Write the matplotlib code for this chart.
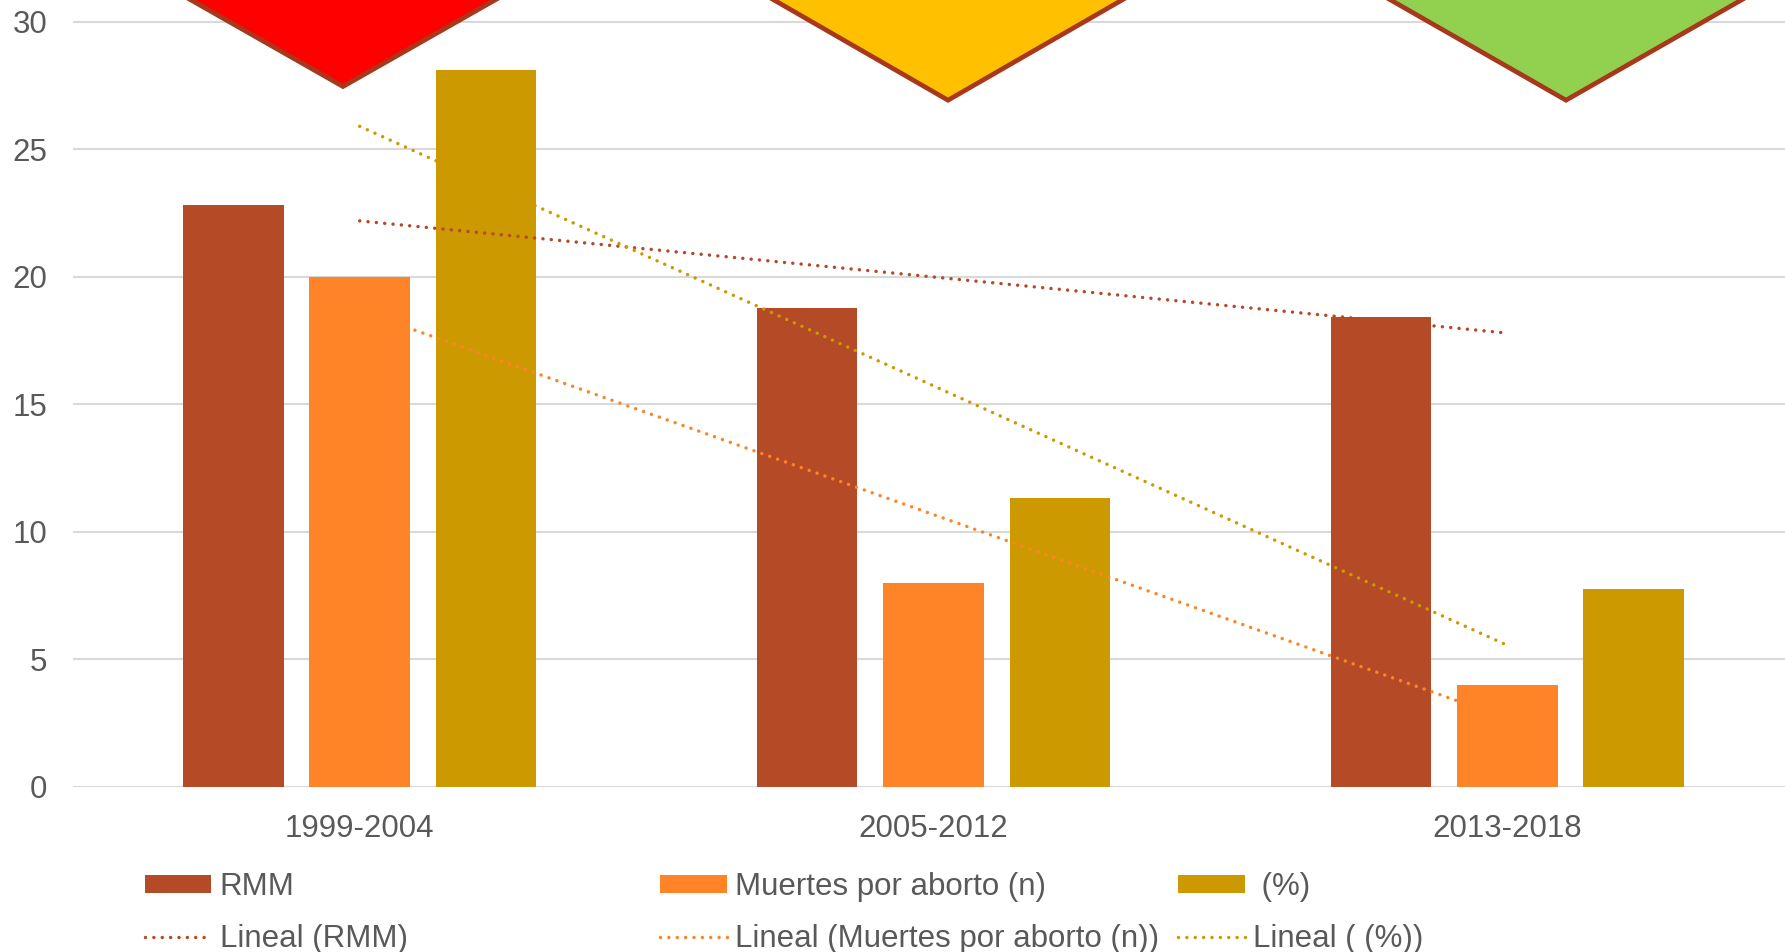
import numpy as np
import matplotlib
matplotlib.use("Agg")
import matplotlib.pyplot as plt
from matplotlib.patches import Polygon, Patch
from matplotlib.lines import Line2D

# Data
periods = ["1999-2004", "2005-2012", "2013-2018"]
rmm = [22.8, 18.75, 18.4]
muertes_aborto = [20, 8, 4]
porcentaje = [28.1, 11.3, 7.75]
y_ticks = [0, 5, 10, 15, 20, 25, 30]

series_labels = ["RMM", "Muertes por aborto (n)", " (%)"]
series_colors = ["#B54A27", "#FF8427", "#CC9900"]

W, H, DPI = 1785, 952, 100
plt.rcParams["font.family"] = ["Liberation Sans", "DejaVu Sans"]
text_gray = "#595959"
font_size = 22.5
trend_lw = 2.5
trend_style = (0, (0.01, 2.4))

fig = plt.figure(figsize=(W / DPI, H / DPI), dpi=DPI)
ax = fig.add_axes([72.8 / W, 165.4 / H, 1721.4 / W, 767.6 / H])

x = np.arange(len(periods))
offsets = [-0.22, 0.0, 0.22]
bar_w = 0.175
series = [rmm, muertes_aborto, porcentaje]
for vals, off, col in zip(series, offsets, series_colors):
    ax.bar(x + off, vals, width=bar_w, color=col, zorder=2)

# Linear trend lines over the category index
for vals, col in zip(series, series_colors):
    m, b = np.polyfit(x, vals, 1)
    xs = np.array([x[0], x[-1]])
    ax.plot(xs, m * xs + b, color=col, lw=trend_lw, linestyle=trend_style,
            dash_capstyle="round", zorder=3)

ax.set_xlim(-0.5, 2.5)
ax.set_ylim(0, 30.1)
ax.set_yticks(y_ticks)
ax.set_xticks(x)
ax.set_xticklabels(periods)
ax.grid(axis="y", color="#D9D9D9", lw=1.5, zorder=0)
ax.set_axisbelow(True)
for s in ax.spines.values():
    s.set_visible(False)
ax.tick_params(axis="both", length=0, labelsize=font_size, labelcolor=text_gray)
ax.tick_params(axis="y", pad=18.5)
ax.tick_params(axis="x", pad=19.5)

# Traffic-light markers above each period
tri_specs = [
    (343, 86.5, 1.757, "#FF0000"),
    (948, 100.2, 1.737, "#FFC000"),
    (1566, 100.2, 1.75, "#92D050"),
]
for cx, tip_from_top, slope, fill in tri_specs:
    tip_y = H - tip_from_top
    top_y = H + 60
    half = slope * (top_y - tip_y)
    pts = [(cx - half, top_y), (cx + half, top_y), (cx, tip_y)]
    pts = [(px / W, py / H) for px, py in pts]
    fig.patches.append(Polygon(pts, closed=True, facecolor=fill,
                               edgecolor="#A8381C", lw=3.4, joinstyle="miter",
                               transform=fig.transFigure, zorder=5))

# Legend: one column per series (bar on top, trend line below)
col_left = [144.6, 660, 1178]
for lbl, col, lx in zip(series_labels, series_colors, col_left):
    handles = [Patch(facecolor=col, edgecolor="none"),
               Line2D([], [], color=col, lw=trend_lw, linestyle=trend_style,
                      dash_capstyle="round")]
    labels = [lbl, f"Lineal ({lbl})"]
    fig.legend(handles, labels, loc="upper left",
               bbox_to_anchor=(lx / W, 80 / H), frameon=False,
               fontsize=font_size, labelcolor=text_gray, borderpad=0,
               borderaxespad=0, handlelength=2.14, handleheight=0.55,
               handletextpad=0.26, labelspacing=0.7)

fig.savefig("out.png", dpi=DPI)
